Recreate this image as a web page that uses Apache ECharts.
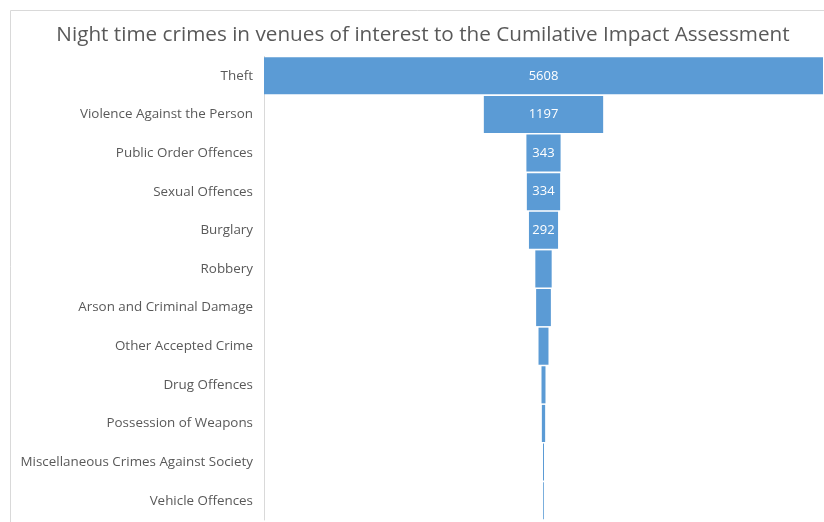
<!DOCTYPE html>
<html><head><meta charset="utf-8">
<script src="https://cdn.jsdelivr.net/npm/echarts@6/dist/echarts.min.js"></script>
<style>html,body{margin:0;padding:0;background:#fff}#c{width:824px;height:522px}</style>
</head><body><div id="c"></div>
<script>
const categories = ["Theft","Violence Against the Person","Public Order Offences","Sexual Offences","Burglary","Robbery","Arson and Criminal Damage","Other Accepted Crime","Drug Offences","Possession of Weapons","Miscellaneous Crimes Against Society","Vehicle Offences"];
const values = [5608,1197,343,334,292,164,148,100,40,33,10,8];
const labelShown = [true,true,true,true,true,false,false,false,false,false,false,false];
const titleText = "Night time crimes in venues of interest to the Cumilative Impact Assessment";

const maxV = Math.max(...values);
const offsets = values.map(v => (maxV - v) / 2);
const chart = echarts.init(document.getElementById('c'));
chart.setOption({
  animation:false,
  title:{text:titleText,left:418,top:20,textAlign:'center',
    textStyle:{fontFamily:'Open Sans',fontSize:20.7,fontWeight:'normal',color:'#595959'}},
  graphic:[{type:'rect',shape:{x:10.5,y:10.5,width:900,height:600},style:{fill:'none',stroke:'#d9d9d9',lineWidth:1},silent:true,z:-1}],
  grid:{left:264,right:1,top:56.5,bottom:2},
  xAxis:{type:'value',min:0,max:maxV,show:false},
  yAxis:{type:'category',data:categories,inverse:true,
    axisLine:{show:true,lineStyle:{color:'#d9d9d9',width:1}},
    axisTick:{show:false},
    axisLabel:{margin:11,fontFamily:'Open Sans',fontSize:13.4,color:'#595959'}},
  series:[
    {type:'bar',stack:'f',data:offsets,itemStyle:{color:'transparent'},barCategoryGap:'4%',silent:true},
    {type:'bar',stack:'f',barCategoryGap:'4%',
      data:values.map((v,i)=>({value:v,label:{show:labelShown[i]}})),
      itemStyle:{color:'#5b9bd5'},
      label:{position:'inside',color:'#ffffff',fontFamily:'Open Sans',fontSize:13}}
  ]
});
</script></body></html>
